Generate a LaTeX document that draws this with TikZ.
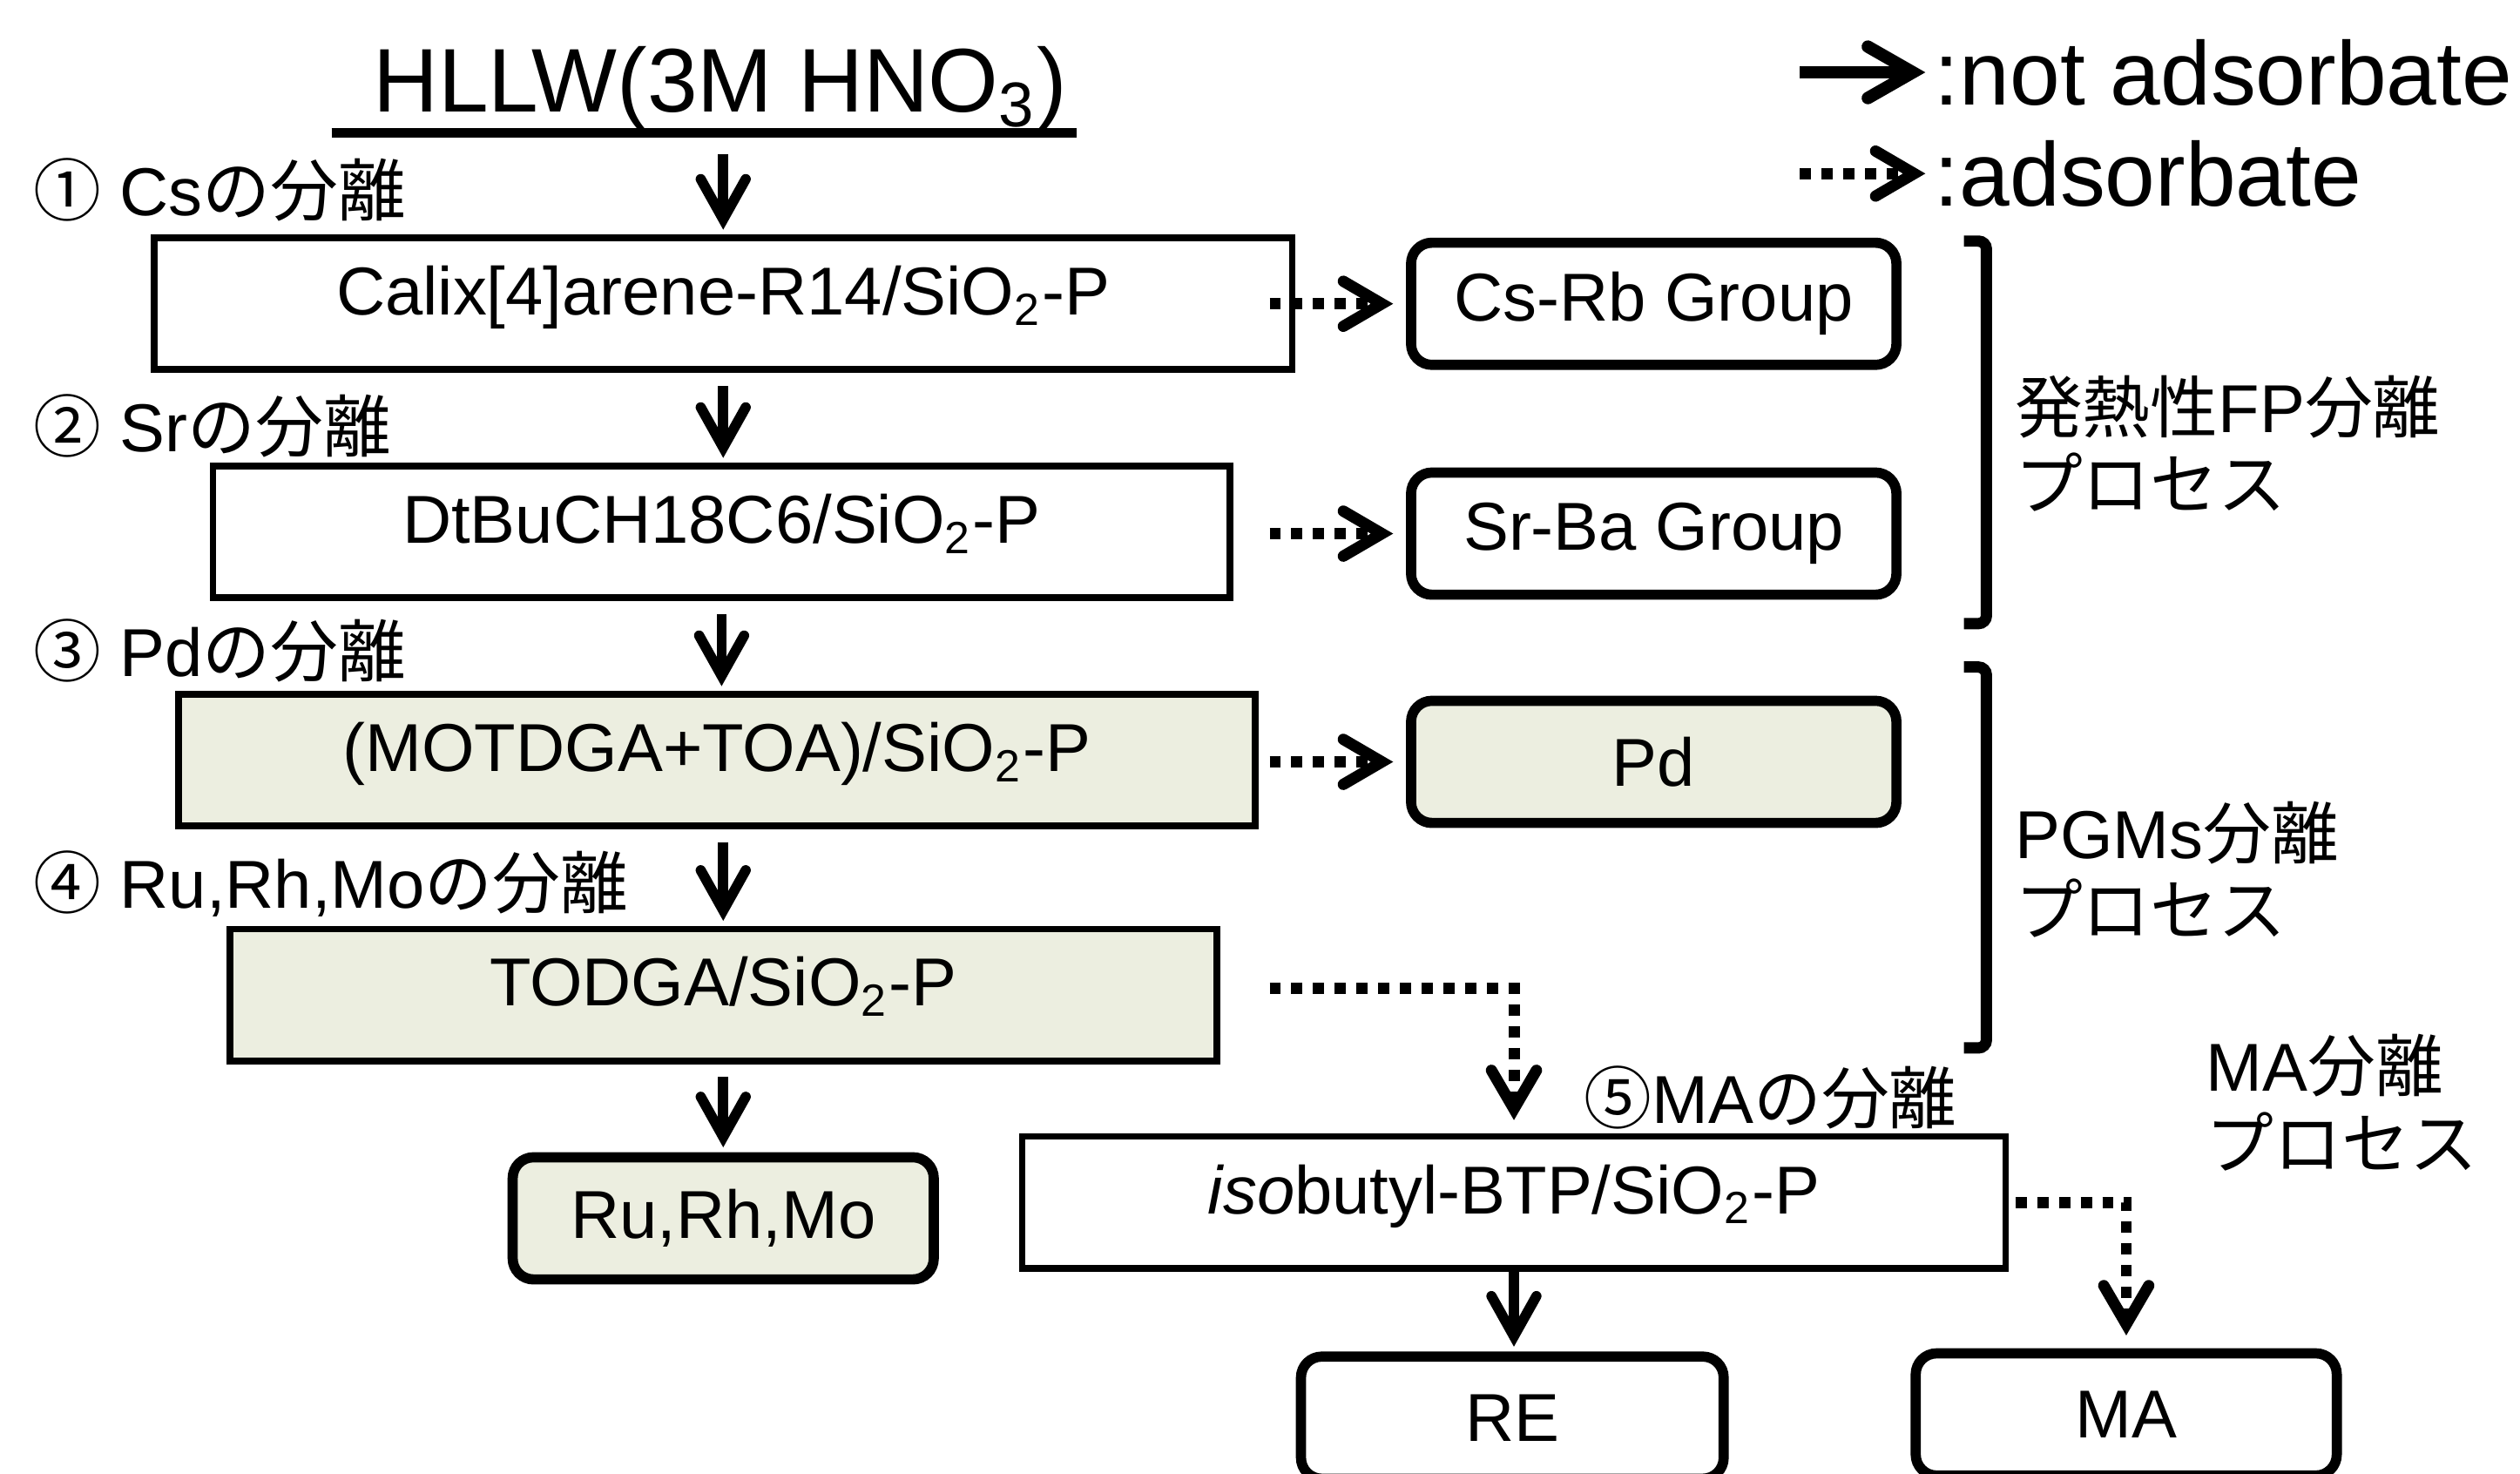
\documentclass[tikz,border=0pt]{standalone}
\usepackage{fontspec}
\setmainfont{Liberation Sans}
\newfontfamily\jp{Noto Sans CJK JP}
\usetikzlibrary{arrows.meta,
                positioning}

\definecolor{paleolive}{RGB}{236,238,224}

\begin{document}
\begin{tikzpicture}%
    [x = 0.1mm, y = -0.1mm,
     every node/.style = {font=\fontsize{12}{13.6}\selectfont, inner sep=0pt},
     column/.style = {draw, line width=1.2pt, minimum height=8.2mm, text height=3mm, text depth=1.6mm},
     group/.style = {draw, line width=1.8pt, rounded corners=1.3mm, minimum width=30.2mm, minimum height=7.6mm},
     flow/.style = {-{Straight Barb[length=2.5mm, width=2.8mm, line cap=round]}, line width=1.8pt,
                    shorten <= 0.8mm, shorten >= 0.3mm},
     adsorb/.style = {-{Straight Barb[length=2.4mm, width=2.8mm, line cap=round]}, line width=2pt,
                      dash pattern=on 0.7mm off 0.65mm, shorten >= 0.8mm},
     bracket/.style = {line width=2pt, rounded corners=0.5mm}]
    \useasboundingbox (0,0) rectangle (1568,917);
    \clip (0,0) rectangle (1568,917);

    % title and legend
    \node [minimum width=46.2mm, minimum height=5.4mm, font=\fontsize{16}{19}\selectfont] (hllw) at (438,55) {\hspace*{2mm}HLLW(3M HNO\textsubscript{3})};
    \draw [line width=1.6pt] (hllw.south west) -- (hllw.south east);

    \node [anchor=west, font=\fontsize{16}{19}\selectfont] (notads) at (1203,45) {:not adsorbate};
    \node [anchor=west, font=\fontsize{16}{19}\selectfont] (ads) at (1203,108) {:adsorbate};
    \draw [-{Straight Barb[length=2.8mm, width=3.2mm, line cap=round]}, line width=2.2pt, shorten >= 0.5mm] ([xshift=-8.3mm]notads.west) -- (notads.west);
    \draw [adsorb, shorten >= 0.5mm] ([xshift=-8.3mm]ads.west) -- (ads.west);

    % columns
    \node [column, minimum width=70.8mm] (cal) at (450,189) {Calix[4]arene-R14/SiO\textsubscript{2}-P};
    \node [column, minimum width=63.3mm] (dtbu) at (449,331) {DtBuCH18C6/SiO\textsubscript{2}-P};
    \node [column, minimum width=67mm, fill=paleolive] (motdga) at (446,473) {(MOTDGA+TOA)/SiO\textsubscript{2}-P};
    \node [column, minimum width=61.4mm, fill=paleolive] (todga) at (450,619) {TODGA/SiO\textsubscript{2}-P};
    \node [column, minimum width=61.2mm] (btp) at (942,748) {\textit{iso}butyl-BTP/SiO\textsubscript{2}-P};

    \node [anchor=west] (step1) at (20,118) {{\jp ①} Cs{\jp の分離}};
    \node [anchor=west] (step2) at (20,265) {{\jp ②} Sr{\jp の分離}};
    \node [anchor=west] (step3) at (20,405) {{\jp ③} Pd{\jp の分離}};
    \node [anchor=west] (step4) at (20,550) {{\jp ④} Ru,Rh,Mo{\jp の分離}};
    \node [anchor=west] (step5) at (985,683) {{\jp ⑤}MA{\jp の分離}};

    % products
    \node [group] (csrb) at (1029,189) {Cs-Rb Group};
    \node [group] (srba) at (1029,332) {Sr-Ba Group};
    \node [group, fill=paleolive] (pd) at (1029,474) {Pd};
    \node [group, fill=paleolive, minimum width=26.2mm] (ruo) at (450,758) {Ru,Rh,Mo};
    \node [group, minimum width=26.3mm] (re) at (941,882) {RE};
    \node [group, minimum width=26.2mm] (ma) at (1323,880) {MA};

    % not adsorbate
    \draw [flow, shorten <= 1.3mm] (hllw.south -| cal.north) -- (cal.north);
    \draw [flow] (cal.south) -- (cal.south |- dtbu.north);
    \draw [flow] (dtbu.south) -- (dtbu.south |- motdga.north);
    \draw [flow] (motdga.south -| todga.north) -- (todga.north);
    \draw [flow] (todga.south) -- (ruo.north);
    \draw [flow, shorten <= 0mm] (btp.south) -- (btp.south |- re.north);

    % adsorbate
    \coordinate (dotx) at (790,0);
    \draw [adsorb] (csrb.west -| dotx) -- (csrb.west);
    \draw [adsorb] (srba.west -| dotx) -- (srba.west);
    \draw [adsorb] (pd.west -| dotx) -- (pd.west);
    \draw [adsorb] ([yshift=0.4mm]todga.east -| dotx) -| (btp.north);
    \draw [adsorb, shorten <= 0.4mm] (btp.east) -| (ma.north);

    % process brackets
    \draw [bracket] (1222,150) -- (1236,150) -- (1236,388) -- (1222,388);
    \draw [bracket] (1222,415) -- (1236,415) -- (1236,652) -- (1222,652);
    \node [anchor=west, align=left] (fpsep) at (1253,276) {{\jp 発熱性}FP{\jp 分離}\\{\jp プロセス}};
    \node [anchor=west, align=left] (pgmsep) at (1253,541) {PGMs{\jp 分離}\\{\jp プロセス}};
    \node [anchor=west, align=left] (masep) at (1372,686) {MA{\jp 分離}\\{\jp プロセス}};
\end{tikzpicture}
\end{document}
